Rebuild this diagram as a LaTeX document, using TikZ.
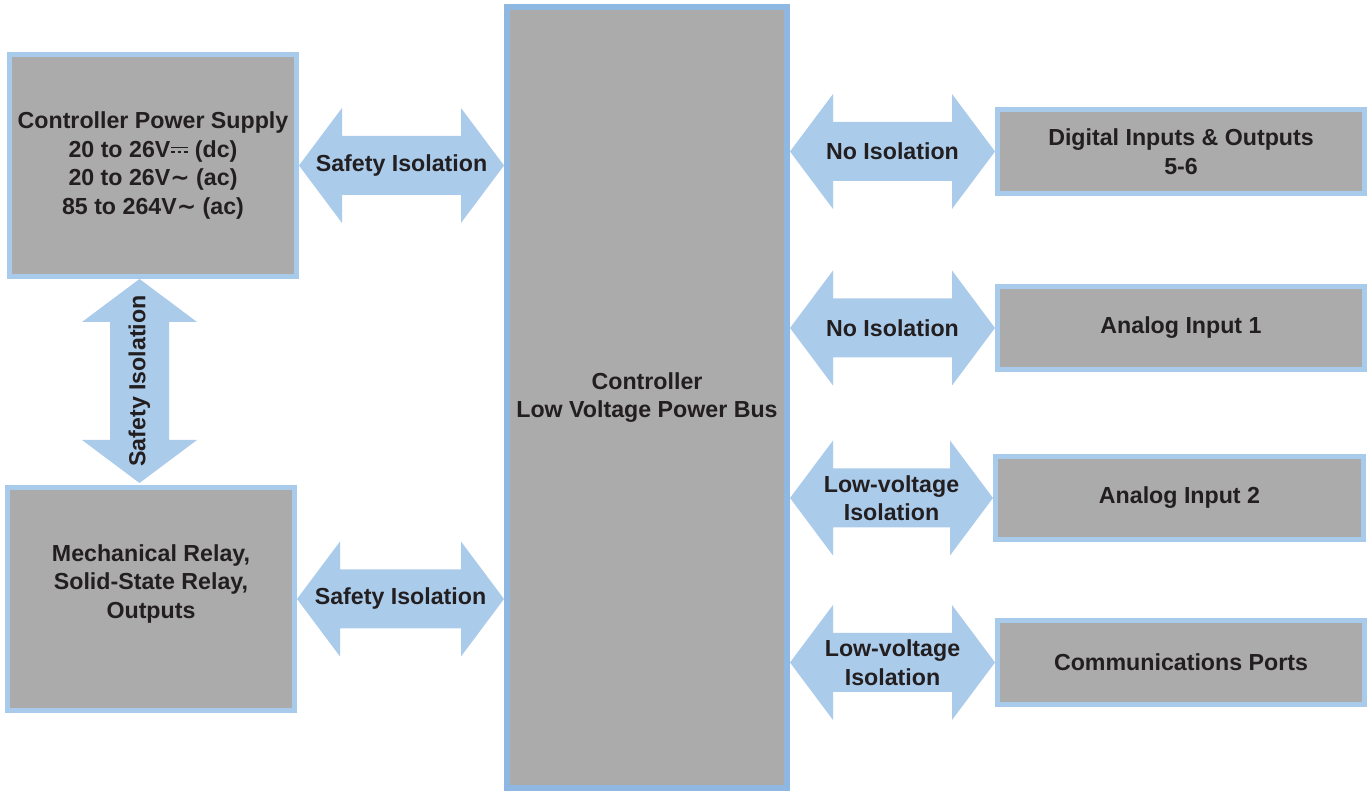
\documentclass[tikz,border=0pt]{standalone}
\usepackage{fontspec}
\setmainfont{Liberation Sans}
\newfontfamily\symfont{DejaVu Sans}
\usetikzlibrary{calc}

\definecolor{boxgray}{HTML}{ABABAB}
\definecolor{boxblue}{HTML}{A8CAEB}
\definecolor{busblue}{HTML}{8EB8E2}
\definecolor{isoblue}{HTML}{ABCBEB}
\definecolor{txt}{HTML}{231F20}

% double-headed isolation arrow between two named points
\newcommand{\isoarrow}[2]{%
  \fill[isofill] (#1)
    -- ($(#1)!0.86cm!(#2)!1.15cm!90:(#2)$)
    -- ($(#1)!0.86cm!(#2)!0.59cm!90:(#2)$)
    -- ($(#2)!0.86cm!(#1)!0.59cm!-90:(#1)$)
    -- ($(#2)!0.86cm!(#1)!1.15cm!-90:(#1)$)
    -- (#2)
    -- ($(#2)!0.86cm!(#1)!1.15cm!90:(#1)$)
    -- ($(#2)!0.86cm!(#1)!0.59cm!90:(#1)$)
    -- ($(#1)!0.86cm!(#2)!0.59cm!-90:(#2)$)
    -- ($(#1)!0.86cm!(#2)!1.15cm!-90:(#2)$)
    -- cycle;}

% direct current sign (no installed font has it)
\newcommand{\dcsign}{\tikz[baseline=0pt,line width=0.06em,txt]{%
  \draw (0,0.42em) -- (0.72em,0.42em);
  \draw[dash pattern=on 0.16em off 0.12em] (0,0.22em) -- (0.72em,0.22em);}}

\begin{document}
\begin{tikzpicture}[
  x=1cm,
  y=1cm,
  font=\fontsize{13.2}{16.2}\selectfont\bfseries,
  box/.style={draw=boxblue,fill=boxgray,line width=0.1cm,text=txt,align=center},
  bus/.style={box,draw=busblue,line width=0.12cm},
  isofill/.style={fill=isoblue},
  isolabel/.style={text=txt,align=center,inner sep=0pt}
]
\useasboundingbox (0,0) rectangle (27.42,15.82);

% Left blocks
\node[box,minimum width=5.74cm,minimum height=4.44cm] (ps) at (3.06,12.51)
  {Controller Power Supply\\20 to 26V\dcsign\ (dc)\\20 to 26V{\symfont ∼} (ac)\\85 to 264V{\symfont ∼} (ac)};
\node[box,minimum width=5.74cm,minimum height=4.46cm] (relay) at (3.02,3.84) {};
\node[isolabel] at ($(relay.center)+(0,0.30)$)
  {Mechanical Relay,\\Solid-State Relay,\\Outputs};

% Power bus
\node[bus,minimum width=5.60cm,minimum height=15.62cm] (bus) at (12.94,7.87)
  {Controller\\Low Voltage Power Bus};

% Right blocks
\node[box,minimum width=7.34cm,minimum height=1.68cm] (dio) at (23.62,12.79)
  {Digital Inputs \& Outputs\\5-6};
\node[box,minimum width=7.34cm,minimum height=1.66cm] (ai1) at (23.62,9.26) {Analog Input 1};
\node[box,minimum width=7.36cm,minimum height=1.66cm] (ai2) at (23.59,5.86) {Analog Input 2};
\node[box,minimum width=7.34cm,minimum height=1.68cm] (comm) at (23.62,2.57) {Communications Ports};

% Arrow end points
\coordinate (psbus) at (ps.east -| bus.west);
\coordinate (relaybus) at (relay.east -| bus.west);
\coordinate (busdio) at (dio.west -| bus.east);
\coordinate (busai1) at (ai1.west -| bus.east);
\coordinate (busai2) at (ai2.west -| bus.east);
\coordinate (buscomm) at (comm.west -| bus.east);
\coordinate (psdown) at ($(ps.south)+(-0.27,0)$);
\coordinate (relayup) at ($(relay.north -| psdown)+(0,0.04)$);

% Isolation arrows
\isoarrow{ps.east}{psbus}
\isoarrow{relay.east}{relaybus}
\isoarrow{psdown}{relayup}
\isoarrow{busdio}{dio.west}
\isoarrow{busai1}{ai1.west}
\isoarrow{busai2}{ai2.west}
\isoarrow{buscomm}{comm.west}

\node[isolabel] at ($(ps.east)!0.5!(psbus)$) {Safety Isolation};
\node[isolabel] at ($(relay.east)!0.5!(relaybus)$) {Safety Isolation};
\node[isolabel,rotate=90] at ($(psdown)!0.5!(relayup)$) {Safety Isolation};
\node[isolabel] at ($(busdio)!0.5!(dio.west)$) {No Isolation};
\node[isolabel] at ($(busai1)!0.5!(ai1.west)$) {No Isolation};
\node[isolabel] at ($(busai2)!0.5!(ai2.west)$) {Low-voltage\\Isolation};
\node[isolabel] at ($(buscomm)!0.5!(comm.west)$) {Low-voltage\\Isolation};

\end{tikzpicture}
\end{document}
